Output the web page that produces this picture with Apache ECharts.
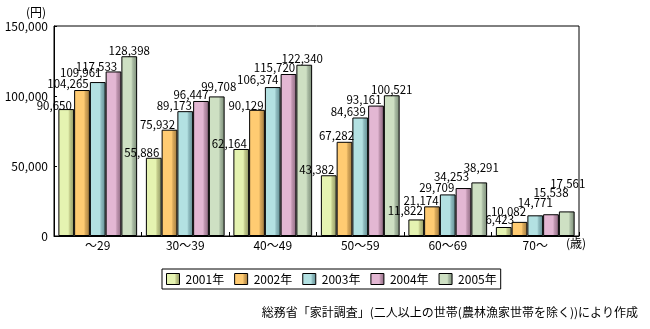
<!DOCTYPE html>
<html>
<head>
<meta charset="utf-8">
<script src="https://cdn.jsdelivr.net/npm/echarts@6/dist/echarts.min.js"></script>
<style>html,body{margin:0;padding:0;background:#fff}#c{width:650px;height:329px}</style>
</head>
<body>
<div id="c"></div>
<script>
const categories = ['～29', '30～39', '40～49', '50～59', '60～69', '70～'];
const years = ['2001年', '2002年', '2003年', '2004年', '2005年'];
const s2001 = [90650, 55886, 62164, 43382, 11822, 6423];
const s2002 = [104265, 75932, 90129, 67282, 21174, 10082];
const s2003 = [109961, 89173, 106374, 84639, 29709, 14771];
const s2004 = [117533, 96447, 115720, 93161, 34253, 15538];
const s2005 = [128398, 99708, 122340, 100521, 38291, 17561];
const yTicks = [0, 50000, 100000, 150000];

// label placement (layout only, separate from data)
const labelOffsets = [
  [[-12, 3], [-12, 1], [-12, 1], [-12, 0], [-11, -3], [-4, -1]],
  [[-14, 0], [-12, 1], [-11, 2], [-8, 0], [-11, 0], [-11, -4]],
  [[-17, -3], [-11, 0], [-15, -1], [-12, 0], [-11, -1], [0, -7]],
  [[-17, 1], [-10, 0], [-14, 0], [-12, 0], [-12, -5], [0, -16]],
  [[0, 0], [2, -4], [-2, 0], [0, 0], [2, -9], [1, -22]]
];
const palette = [
  ['#e5f3b1', '#c4cc8c', '#8e9664'],
  ['#ffcb72', '#d8a85a', '#a07a3e'],
  ['#b3e1e2', '#90bcc0', '#5f8c90'],
  ['#e3b7d3', '#c096b0', '#8c6880'],
  ['#cee0c3', '#aabca4', '#7a8c76']
];
const seriesData = [s2001, s2002, s2003, s2004, s2005];
const FONT = '"Noto Sans CJK JP", "Noto Sans", sans-serif';
const fmt = v => Number(v).toLocaleString('en-US');

function grad(p) {
  return new echarts.graphic.LinearGradient(0, 0, 1, 0, [
    {offset: 0, color: p[0]}, {offset: 0.62, color: p[0]},
    {offset: 0.72, color: p[1]}, {offset: 1, color: p[2]}
  ]);
}

const chart = echarts.init(document.getElementById('c'), null, {renderer: 'canvas'});
const series = seriesData.map((arr, si) => ({
  name: years[si],
  type: 'bar',
  barGap: '0%',
  barCategoryGap: '10%',
  itemStyle: {color: grad(palette[si]), borderColor: '#000', borderWidth: 1},
  label: {
    show: true, position: 'top', distance: 0,
    fontFamily: FONT, fontSize: 11.5, color: '#000', lineHeight: 12,
    formatter: p => fmt(p.value)
  },
  emphasis: {disabled: true},
  data: arr.map((v, ci) => ({value: v, label: {offset: labelOffsets[si][ci]}}))
}));

chart.setOption({
  animation: false,
  backgroundColor: '#fff',
  textStyle: {fontFamily: FONT},
  grid: {left: 54, top: 26, right: 71, bottom: 93, show: true, borderColor: '#000', borderWidth: 1, backgroundColor: 'transparent'},
  legend: {
    data: years.map(n => ({name: n, icon: 'rect'})),
    left: 162, top: 269,
    padding: [4, 4, 4, 4],
    itemWidth: 13, itemHeight: 11, itemGap: 10,
    borderColor: '#000', borderWidth: 1,
    itemStyle: {borderColor: '#000', borderWidth: 1},
    textStyle: {fontFamily: FONT, fontSize: 12, color: '#000', padding: [0, 0, 0, 1]},
    selectedMode: false
  },
  xAxis: {
    type: 'category',
    data: categories,
    axisLine: {lineStyle: {color: '#000', width: 1}},
    axisTick: {show: true, inside: true, length: 4, lineStyle: {color: '#000'}},
    axisLabel: {fontFamily: FONT, fontSize: 12, color: '#000', margin: 3}
  },
  yAxis: {
    type: 'value',
    min: yTicks[0], max: yTicks[yTicks.length - 1], interval: yTicks[1] - yTicks[0],
    axisLine: {show: true, lineStyle: {color: '#000', width: 1}},
    axisTick: {show: true, inside: true, length: 3, lineStyle: {color: '#000'}},
    splitLine: {show: false},
    axisLabel: {fontFamily: FONT, fontSize: 12, color: '#000', margin: 6, formatter: v => fmt(v)}
  },
  graphic: [
    {type: 'text', left: 26, top: 6, style: {text: '(円)', font: '12px ' + FONT, fill: '#000'}},
    {type: 'text', left: 566, top: 237, style: {text: '(歳)', font: '12px ' + FONT, fill: '#000'}},
    {type: 'text', right: 12, top: 306, style: {text: '総務省「家計調査」(二人以上の世帯(農林漁家世帯を除く))により作成', font: '12px ' + FONT, fill: '#000'}}
  ],
  series: series
});
</script>
</body>
</html>
